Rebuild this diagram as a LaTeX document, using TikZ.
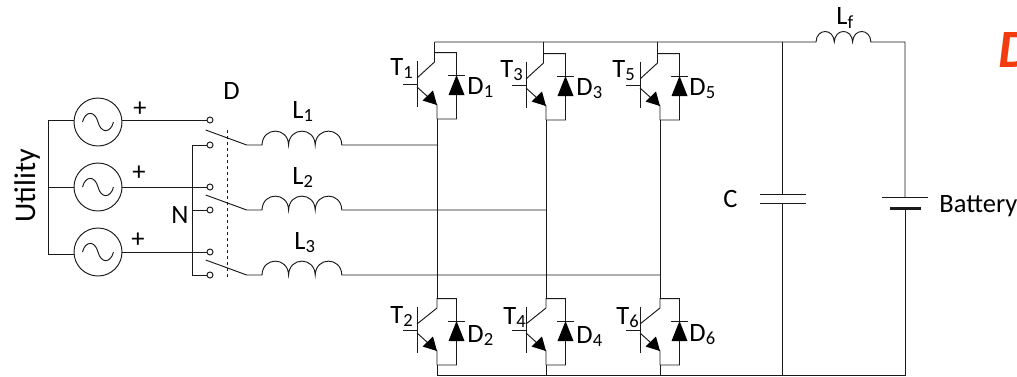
\documentclass[tikz,border=0pt]{standalone}
\usepackage{fontspec}
\setmainfont{Carlito}
\usepackage{xcolor}
\definecolor{wire}{HTML}{1A1A1A}
\definecolor{redmark}{HTML}{F23C0F}
\newcommand{\bighump}{.. controls +(0.5,-18.5) and +(-0.5,-18.5) .. ++(26.6,0)}
\newcommand{\smallhump}{.. controls +(0.5,-14) and +(-0.5,-14) .. ++(18.3,0)}
\begin{document}
\begin{tikzpicture}[x=1pt,y=-1pt,line width=0.95pt,draw=wire,font=\fontsize{26.5}{26.5}\selectfont]
        \tikzstyle{source_node}=[circle,draw,fill=white,inner sep=0pt,minimum size=48pt]
        \tikzstyle{contact_node}=[circle,draw,fill=white,inner sep=0pt,minimum size=6pt]
        \tikzstyle{text_node}=[inner sep=0pt,anchor=base west]
        \tikzstyle{plus_node}=[inner sep=0pt,anchor=center]
    \path[clip,use as bounding box] (0,0) rectangle (1017,376);

    \node[source_node]  (v1) at (98,122)  {};
    \node[source_node]  (v2) at (98,187)  {};
    \node[source_node]  (v3) at (98,252)  {};
    \foreach \n in {1,2,3}
        \draw (v\n) ++(-15.5,0) .. controls +(3,-11.5) and +(-3,-11.5) .. ++(15.5,0)
                                .. controls +(3,11.5) and +(-3,11.5) .. ++(15.5,0);

    \coordinate (u1) at (48,120);
    \coordinate (u2) at (48,187);
    \coordinate (u3) at (48,254);
    \coordinate (ntop) at (192,145);
    \coordinate (nbot) at (192,275);
    \draw (u3) -- (u1);
    \foreach \n in {1,2,3}
        \draw (u\n) -- (u\n -| v\n.west);

    \node[contact_node] (a1) at (210,120) {};
    \node[contact_node] (a2) at (210,187) {};
    \node[contact_node] (a3) at (210,252) {};
    \node[contact_node] (n1) at (210,145) {};
    \node[contact_node] (n2) at (210,210) {};
    \node[contact_node] (n3) at (210,275) {};
    \foreach \n in {1,2,3}
        \draw (a\n) -- (a\n -| v\n.east);
    \draw (n3) -- (nbot) -- (ntop) -- (n1);
    \draw (n2) -- (n2 -| ntop);

    \coordinate (dtop) at (227.7,130);
    \coordinate (dbot) at (227.7,277);
    \draw[dashed,line width=0.8pt] (dtop) -- (dbot);

    \foreach \n/\y/\xj in {1/145/437,2/210/546,3/275/660}{
        \coordinate (b\n) at (246.7,\y);
        \coordinate (f\n) at (205.7,\y-15);
        \coordinate (li\n) at (262,\y);
        \coordinate (lo\n) at (342,\y);
        \coordinate (j\n) at (\xj,\y);
        \draw (f\n) -- (b\n) -- (li\n) \bighump \bighump \bighump -- (lo\n) -- (j\n);
    }

    \foreach \n/\x/\y/\k in {1/437/0/-2.5,3/546/1/-2.5,5/660/1/-2.5,2/437/246/0,4/546/246/0,6/660/246/0}{
        \begin{scope}[shift={(\x,\y)}]
            \coordinate (top\n) at (\k,52.7);
            \coordinate (bot\n) at (0,119);
            \coordinate (box\n) at (19.5,52.7);
            \coordinate (boy\n) at (19.5,119);
            \coordinate (gate\n) at (-20,84);
            \coordinate (emit\n) at (0,105);
            \draw (bot\n) -- (boy\n) -- (box\n) -- (top\n) -- (\k,62) -- (-20,78);
            \draw (-20,60.7) -- (-20,107);
            \draw (-34,84) -- (gate\n);
            \draw (-20,87) -- (emit\n) -- (bot\n);
            \fill[black] (emit\n) -- ++(-14.5,-4.5) -- ++(10.5,-10) -- cycle;
            \fill[black] (11.5,95) -- (19.5,75) -- (27.5,95) -- cycle;
            \draw (11,75) -- (28,75);
        \end{scope}
    }

    \coordinate (railtl) at (434.5,42);
    \coordinate (lfin) at (816,42);
    \coordinate (lfout) at (871,42);
    \coordinate (railtr) at (905,42);
    \coordinate (railbl) at (437,375);
    \coordinate (railbr) at (905,375);
    \coordinate (caphi) at (782,194.5);
    \coordinate (caplo) at (782,203.5);
    \coordinate (bathi) at (905,197);
    \coordinate (batlo) at (905,208);

    \draw (railtl) -- (lfin) \smallhump \smallhump \smallhump -- (lfout) -- (railtr) -- (bathi);
    \draw (batlo) -- (railbr) -- (railbl);
    \foreach \n in {1,3,5}
        \draw (top\n) -- (top\n |- railtl);
    \foreach \t/\b in {1/2,3/4,5/6}{
        \draw (bot\t) -- (top\b);
        \draw (bot\b) -- (bot\b |- railbl);
    }
    \draw (caphi |- railtl) -- (caphi);
    \draw (caplo) -- (caplo |- railbl);
    \draw ([xshift=-22pt]caphi) -- ([xshift=24pt]caphi);
    \draw ([xshift=-22pt]caplo) -- ([xshift=24pt]caplo);
    \draw ([xshift=-23pt]bathi) -- ([xshift=23pt]bathi);
    \draw[line width=3pt] ([xshift=-15pt]batlo) -- ([xshift=16pt]batlo);

    \node[text_node] (t1) at (390,75)  {T\textsubscript{1}};
    \node[text_node] (t3) at (500,77)  {T\textsubscript{3}};
    \node[text_node] (t5) at (612,77)  {T\textsubscript{5}};
    \node[text_node] (t2) at (390,323) {T\textsubscript{2}};
    \node[text_node] (t4) at (503,324) {T\textsubscript{4}};
    \node[text_node] (t6) at (616,324) {T\textsubscript{6}};
    \node[text_node] (d1) at (467,94)  {D\textsubscript{1}};
    \node[text_node] (d3) at (576,95)  {D\textsubscript{3}};
    \node[text_node] (d5) at (689,95)  {D\textsubscript{5}};
    \node[text_node] (d2) at (467,342) {D\textsubscript{2}};
    \node[text_node] (d4) at (576,343) {D\textsubscript{4}};
    \node[text_node] (d6) at (689,341) {D\textsubscript{6}};
    \node[text_node] (l1) at (292,118) {L\textsubscript{1}};
    \node[text_node] (l2) at (292,184) {L\textsubscript{2}};
    \node[text_node] (l3) at (294,249) {L\textsubscript{3}};
    \node[text_node] (lf) at (836,24)  {L\textsubscript{f}};
    \node[text_node] (dsw) at (223,99) {D};
    \node[text_node] (nsw) at (171,223) {N};
    \node[text_node] (cap) at (723,207) {C};
    \node[text_node] (bat) at (939,212) {Battery};
    \node[plus_node] (p1) at (140,109) {+};
    \node[plus_node] (p2) at (139,173) {+};
    \node[plus_node] (p3) at (138,240) {+};
    \node[text_node,font=\fontsize{30}{30}\selectfont,rotate=90] (util) at (35,223) {Utility};
    \node[text_node,font=\fontsize{54}{54}\selectfont\bfseries\itshape,text=redmark] (mark) at (998,67) {D};
\end{tikzpicture}
\end{document}
